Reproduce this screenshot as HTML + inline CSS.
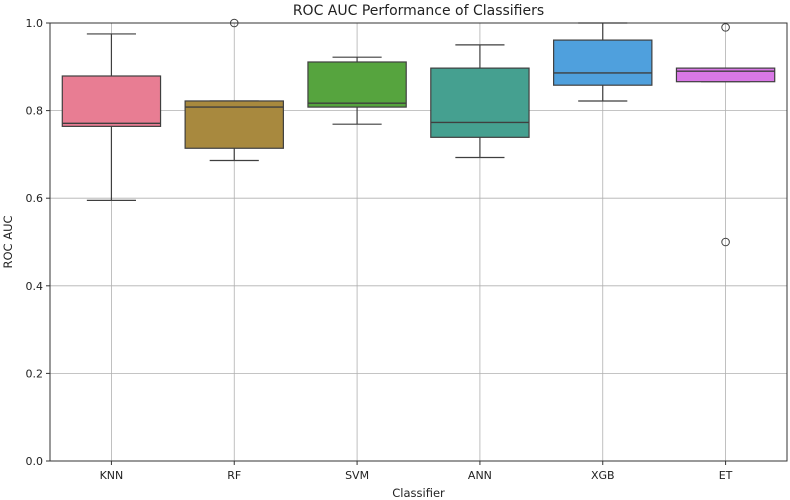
<!DOCTYPE html>
<html><head><meta charset="utf-8"><style>
html,body{margin:0;padding:0;background:#fff;width:790px;height:500px;overflow:hidden}
text{font-family:"DejaVu Sans","Liberation Sans",sans-serif;fill:#222}
</style></head><body>
<svg id="chart" width="790" height="500" xmlns="http://www.w3.org/2000/svg"></svg>
<script>
const categories = ["KNN","RF","SVM","ANN","XGB","ET"];
const whiskerLow = [0.595,0.686,0.769,0.693,0.822,0.866];
const q1Values   = [0.764,0.714,0.808,0.739,0.858,0.866];
const medians    = [0.771,0.808,0.817,0.773,0.886,0.890];
const q3Values   = [0.879,0.822,0.911,0.897,0.961,0.897];
const whiskerHigh= [0.975,0.822,0.922,0.950,1.000,0.897];
const outliers   = [[],[1.0],[],[],[],[0.99,0.5]];
const colors = ["#e87d93","#a8893e","#56a43e","#45a090","#4fa0dd","#d978e6"];
const yTicks = [0.0,0.2,0.4,0.6,0.8,1.0];

const svg = document.getElementById('chart');
const NS = "http://www.w3.org/2000/svg";
const L=50, R=787, T=23, B=461;
const band=(R-L)/categories.length;
const x = i => L + band*(i+0.5);
const y = v => B - (v-0)/(1-0)*(B-T);
function mk(tag, attrs, parent){const e=document.createElementNS(NS,tag);for(const k in attrs)e.setAttribute(k,attrs[k]);(parent||svg).appendChild(e);return e;}

// grid
yTicks.forEach(v=>{
  const g=mk('line',{x1:L,x2:R,y1:y(v),y2:y(v),stroke:'#b0b0b0','stroke-width':0.8});
  
  
  mk('line',{x1:L-4,x2:L,y1:y(v),y2:y(v),stroke:'#333'});
  const t=mk('text',{x:L-7,y:y(v)+4,'text-anchor':'end','font-size':11});
  t.textContent=v.toFixed(1);
  
  
});
categories.forEach((c,i)=>{
  const g=mk('line',{x1:x(i),x2:x(i),y1:T,y2:B,stroke:'#b0b0b0','stroke-width':0.8});
  
  
  mk('line',{x1:x(i),x2:x(i),y1:B,y2:B+4,stroke:'#333'});
  const t=mk('text',{x:x(i),y:B+18,'text-anchor':'middle','font-size':11});
  t.textContent=c;
  
  
});
// boxes
const bw=band*0.8, cw=band*0.4, lc='#3f3f3f';
categories.forEach((c,i)=>{
  const g=mk('g',{});
  
  
  mk('line',{x1:x(i),x2:x(i),y1:y(whiskerHigh[i]),y2:y(q3Values[i]),stroke:lc,'stroke-width':1.2},g);
  mk('line',{x1:x(i),x2:x(i),y1:y(q1Values[i]),y2:y(whiskerLow[i]),stroke:lc,'stroke-width':1.2},g);
  mk('line',{x1:x(i)-cw/2,x2:x(i)+cw/2,y1:y(whiskerHigh[i]),y2:y(whiskerHigh[i]),stroke:lc,'stroke-width':1.2},g);
  mk('line',{x1:x(i)-cw/2,x2:x(i)+cw/2,y1:y(whiskerLow[i]),y2:y(whiskerLow[i]),stroke:lc,'stroke-width':1.2},g);
  mk('rect',{x:x(i)-bw/2,y:y(q3Values[i]),width:bw,height:y(q1Values[i])-y(q3Values[i]),fill:colors[i],stroke:lc,'stroke-width':1.2},g);
  mk('line',{x1:x(i)-bw/2,x2:x(i)+bw/2,y1:y(medians[i]),y2:y(medians[i]),stroke:lc,'stroke-width':1.4},g);
  outliers[i].forEach(v=>{
    const o=mk('circle',{cx:x(i),cy:y(v),r:3.8,fill:'none',stroke:lc,'stroke-width':1},g);
    
    
  });
});
// axes frame
const fr=mk('rect',{x:L,y:T,width:R-L,height:B-T,fill:'none',stroke:'#333','stroke-width':1});


const ti=mk('text',{x:(L+R)/2,y:15,'text-anchor':'middle','font-size':14});
ti.textContent='ROC AUC Performance of Classifiers';


const xl=mk('text',{x:(L+R)/2,y:497,'text-anchor':'middle','font-size':11.5});
xl.textContent='Classifier';


const yl=mk('text',{x:0,y:0,'text-anchor':'middle','font-size':11.5,transform:`translate(12,${(T+B)/2}) rotate(-90)`});
yl.textContent='ROC AUC';


</script>
</body></html>
